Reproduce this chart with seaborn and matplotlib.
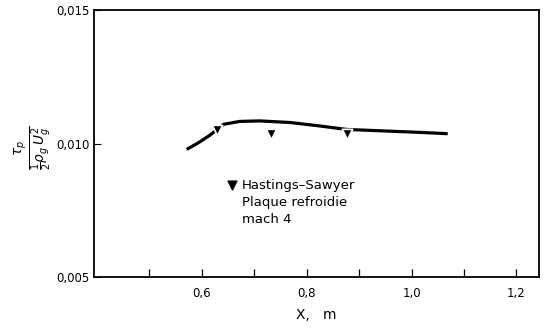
import matplotlib
matplotlib.use("Agg")
import matplotlib.pyplot as plt
import seaborn as sns
import pandas as pd
from matplotlib.ticker import FixedLocator, FuncFormatter

sns.set_style("ticks")
plt.rcParams["font.family"] = ["DejaVu Sans"]
plt.rcParams["mathtext.fontset"] = "dejavusans"
plt.rcParams["text.color"] = "black"
plt.rcParams["axes.labelcolor"] = "black"

# Computed skin-friction curve along the cooled plate
curve_x = [0.571, 0.595, 0.615, 0.628, 0.641, 0.672, 0.710, 0.768, 0.825,
           0.876, 0.939, 1.015, 1.069]
curve_cf = [0.00979, 0.01006, 0.01032, 0.01052, 0.01073, 0.01084, 0.01086,
            0.01080, 0.01067, 0.01054, 0.01049, 0.01043, 0.01038]

# Hastings-Sawyer measurements
hs_x = [0.628, 0.731, 0.876]
hs_cf = [0.01052, 0.01036, 0.01038]

x_major = [0.6, 0.8, 1.0, 1.2]
x_minor = [0.5, 0.7, 0.9, 1.1]
y_ticks = [0.005, 0.010, 0.015]

curve = pd.DataFrame({"x": curve_x, "cf": curve_cf})
points = pd.DataFrame({"x": hs_x, "cf": hs_cf})

fig = plt.figure(figsize=(5.46, 3.28), dpi=100)
ax = fig.add_axes([0.172, 0.155, 0.815, 0.813])

sns.lineplot(data=curve, x="x", y="cf", ax=ax, color="black", lw=2.3,
             solid_capstyle="butt")
sns.scatterplot(data=points, x="x", y="cf", ax=ax, marker="v", s=55,
                color="black", edgecolor="white", linewidth=1.2, zorder=5)

ax.set_xlim(0.394, 1.243)
ax.set_ylim(0.005, 0.015)

ax.xaxis.set_major_locator(FixedLocator(x_major))
ax.xaxis.set_minor_locator(FixedLocator(x_minor))
ax.yaxis.set_major_locator(FixedLocator(y_ticks))
ax.xaxis.set_major_formatter(FuncFormatter(lambda v, p: f"{v:.1f}".replace(".", ",")))
ax.yaxis.set_major_formatter(FuncFormatter(lambda v, p: f"{v:.3f}".replace(".", ",")))

ax.tick_params(axis="x", which="both", direction="in", length=6, width=0.9,
               labelsize=8.5, pad=7, colors="black")
ax.tick_params(axis="y", which="major", direction="in", length=5, width=0.8,
               labelsize=8.5, pad=3, colors="black")

for s in ax.spines.values():
    s.set_visible(True)
    s.set_linewidth(1.3)
    s.set_color("black")

ax.set_xlabel("X,   m", fontsize=10, labelpad=6)
ax.set_ylabel("")
fig.text(0.062, 0.55, r"$\frac{\tau_p}{\frac{1}{2}\rho_g\,U_g^2}$", rotation=90,
         ha="center", va="center", fontsize=14)

# Legend block
ax.scatter([0.31], [0.345], marker="v", s=40, color="black",
           transform=ax.transAxes, clip_on=False)
ax.text(0.333, 0.345, "Hastings\u2013Sawyer", transform=ax.transAxes,
        fontsize=9.5, va="center", ha="left")
ax.text(0.333, 0.281, "Plaque refroidie", transform=ax.transAxes,
        fontsize=9.5, va="center", ha="left")
ax.text(0.333, 0.218, "mach 4", transform=ax.transAxes,
        fontsize=9.5, va="center", ha="left")

fig.savefig("out.png", dpi=100)
